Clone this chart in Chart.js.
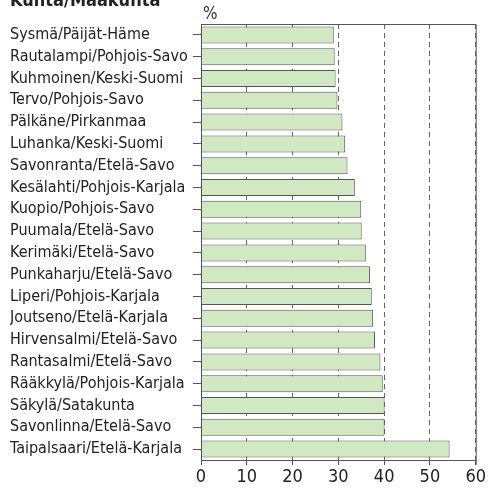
<!DOCTYPE html>
<html>
<head>
<meta charset="utf-8">
<script src="https://cdn.jsdelivr.net/npm/chart.js@4/dist/chart.umd.min.js"></script>
<style>
  html, body { margin: 0; padding: 0; background: #fff; overflow: hidden; }
  #wrap { position: relative; width: 488px; height: 488px; }
  #title { position: absolute; left: 10px; top: -11px; font: bold 18px "DejaVu Sans Condensed", "Liberation Sans", sans-serif; color: #222; white-space: nowrap; }
  #unit { position: absolute; left: 203px; top: 3px; font: 17px "DejaVu Sans Condensed", "Liberation Sans", sans-serif; color: #333; }
</style>
</head>
<body>
<div id="wrap">
  <canvas id="c" width="488" height="488"></canvas>
  <div id="title">Kunta/Maakunta</div>
  <div id="unit">%</div>
</div>
<script>
const categories = [
  "Sysmä/Päijät-Häme",
  "Rautalampi/Pohjois-Savo",
  "Kuhmoinen/Keski-Suomi",
  "Tervo/Pohjois-Savo",
  "Pälkäne/Pirkanmaa",
  "Luhanka/Keski-Suomi",
  "Savonranta/Etelä-Savo",
  "Kesälahti/Pohjois-Karjala",
  "Kuopio/Pohjois-Savo",
  "Puumala/Etelä-Savo",
  "Kerimäki/Etelä-Savo",
  "Punkaharju/Etelä-Savo",
  "Liperi/Pohjois-Karjala",
  "Joutseno/Etelä-Karjala",
  "Hirvensalmi/Etelä-Savo",
  "Rantasalmi/Etelä-Savo",
  "Rääkkylä/Pohjois-Karjala",
  "Säkylä/Satakunta",
  "Savonlinna/Etelä-Savo",
  "Taipalsaari/Etelä-Karjala"
];
const values = [29.0, 29.2, 29.4, 29.8, 30.9, 31.5, 32.0, 33.6, 35.0, 35.1,
                36.0, 36.9, 37.3, 37.6, 38.0, 39.2, 39.7, 40.1, 40.1, 54.3];
const xTicks = [0, 10, 20, 30, 40, 50, 60];

const FONT = '"DejaVu Sans Condensed", "Liberation Sans", sans-serif';

const framePlugin = {
  id: 'frame',
  afterDraw(chart) {
    const { ctx, chartArea: a } = chart;
    ctx.save();
    ctx.strokeStyle = '#555';
    ctx.lineWidth = 1;
    ctx.setLineDash([]);
    ctx.beginPath();
    ctx.moveTo(a.left + 0.5, a.top + 0.5);
    ctx.lineTo(a.right + 0.5, a.top + 0.5);
    ctx.lineTo(a.right + 0.5, a.bottom + 5);
    ctx.moveTo(a.left + 0.5, a.top);
    ctx.lineTo(a.left + 0.5, a.bottom + 5);
    ctx.moveTo(a.left, a.bottom + 0.5);
    ctx.lineTo(a.right + 1, a.bottom + 0.5);
    ctx.stroke();
    ctx.restore();
  }
};

new Chart(document.getElementById('c'), {
  type: 'bar',
  data: {
    labels: categories,
    datasets: [{
      data: values,
      backgroundColor: '#d1e9c3',
      borderColor: '#555',
      borderWidth: 1,
      barPercentage: 0.78,
      categoryPercentage: 1.0
    }]
  },
  options: {
    indexAxis: 'y',
    responsive: false,
    animation: false,
    devicePixelRatio: 1,
    layout: { padding: { left: 10, top: 24, right: 10, bottom: 0 } },
    plugins: { legend: { display: false }, tooltip: { enabled: false } },
    scales: {
      x: {
        min: 0, max: 60,
        afterBuildTicks(scale) { scale.ticks = xTicks.map(v => ({ value: v })); },
        afterFit(scale) { scale.height = 28; },
        border: { display: false, dash: [5, 4] },
        grid: {
          display: true,
          color: '#666',
          lineWidth: 1,
          drawTicks: true,
          tickLength: 5,
          tickColor: '#555',
          tickBorderDash: []
        },
        ticks: { color: '#222', font: { family: FONT, size: 18 }, padding: 2, maxRotation: 0 }
      },
      y: {
        afterFit(scale) { scale.width = 191; },
        border: { display: false },
        grid: {
          offset: false,
          drawOnChartArea: false,
          drawTicks: true,
          tickLength: 8,
          tickColor: '#555'
        },
        ticks: { color: '#222', font: { family: FONT, size: 16 }, crossAlign: 'far', autoSkip: false }
      }
    }
  },
  plugins: [framePlugin]
});
</script>
</body>
</html>
